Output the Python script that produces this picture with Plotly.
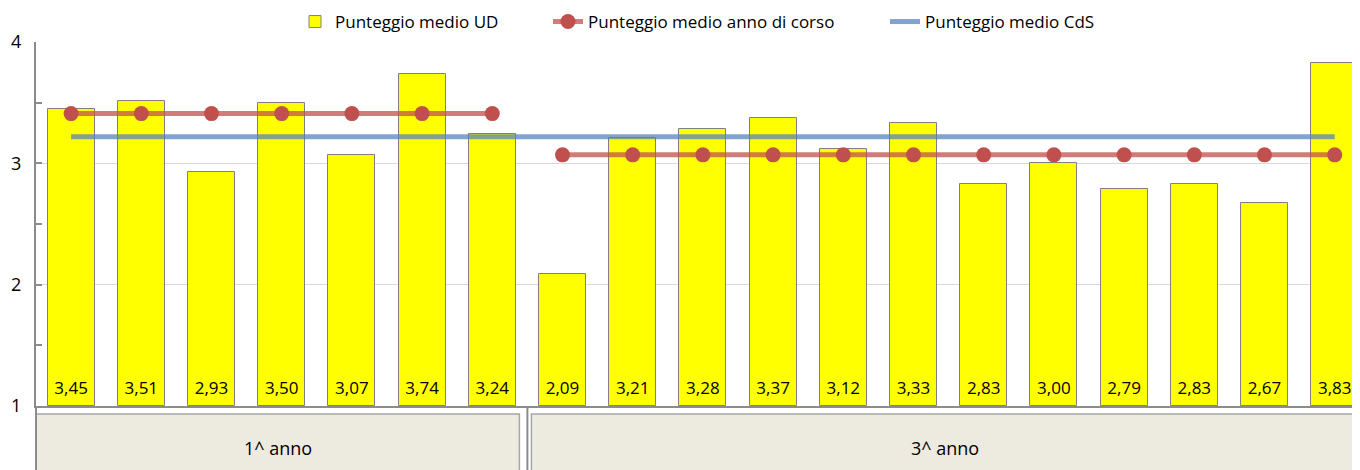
import plotly.graph_objects as go

# ---- data ----
ud_scores = [3.45, 3.51, 2.93, 3.50, 3.07, 3.74, 3.24,
             2.09, 3.21, 3.28, 3.37, 3.12, 3.33, 2.83, 3.00, 2.79, 2.83, 2.67, 3.83]
group_names = ["1^ anno", "3^ anno"]
group_sizes = [7, 12]
group_means = [3.41, 3.07]
cds_mean = 3.22

FONT = "Open Sans"
W, H = 1360, 470
OFF = 8  # page body offset of the figure in the browser window
ML = 36 - OFF
MT = 42 - OFF
MB = H - (406 - OFF)
MR = 0
PW = W - ML - MR
n = len(ud_scores)
x_idx = list(range(n))
cat_px = 70.2
x_range = [-0.5, -0.5 + PW / cat_px]
plot_h = H - MT - MB

def xp(x):
    return (x - x_range[0]) / (x_range[1] - x_range[0])

def yp_px(px_below):
    return -px_below / plot_h

labels = [f"{v:.2f}".replace(".", ",") for v in ud_scores]

fig = go.Figure()
fig.add_trace(go.Bar(
    x=x_idx, y=[v - 1 for v in ud_scores], base=1,
    width=0.67,
    marker=dict(color="#FFFF00", line=dict(color="rgb(128,128,128)", width=1)),
    name="Punteggio medio UD", hoverinfo="skip", legend="legend",
))

# group mean lines
start = 0
for gi, (size, m) in enumerate(zip(group_sizes, group_means)):
    xs = x_idx[start:start + size]
    fig.add_trace(go.Scatter(
        x=xs, y=[m] * len(xs), mode="lines+markers",
        line=dict(color="rgba(192,80,77,0.75)", width=5),
        marker=dict(color="#C0504D", size=15),
        name="Punteggio medio anno di corso",
        legendgroup="anno", showlegend=(gi == 0), legend="legend2",
    ))
    start += size

fig.add_trace(go.Scatter(
    x=[x_idx[0], x_idx[-1]], y=[cds_mean, cds_mean], mode="lines",
    line=dict(color="rgba(79,129,189,0.72)", width=5),
    name="Punteggio medio CdS", legend="legend3",
))

# bar value labels near the base
fig.add_trace(go.Scatter(
    x=x_idx, y=[1.13] * n, mode="text", text=labels,
    textfont=dict(family=FONT, size=17, color="black"),
    showlegend=False, hoverinfo="skip",
))

shapes = []
annotations = []
axis_grey = "#8C8C8C"
box_top = yp_px(8)
box_bot = yp_px(90)
start = 0
for gi, (name, size) in enumerate(zip(group_names, group_sizes)):
    left = start - 0.5
    right = start + size - 0.5
    x0 = xp(left) + (0 if gi == 0 else 4 / PW)
    x1 = (xp(right) - 8 / PW) if gi < len(group_sizes) - 1 else 1.0 - 2 / PW
    shapes.append(dict(type="rect", xref="paper", yref="paper",
                       x0=x0, x1=x1, y0=box_bot, y1=box_top,
                       fillcolor="#EDEAE0", line=dict(color="#A6A6A6", width=1.5),
                       layer="below"))
    vis_x1 = min(x1, 1.0 - 10 / PW)
    annotations.append(dict(xref="paper", yref="paper",
                            x=(x0 + vis_x1) / 2, y=yp_px(448 - 406),
                            xanchor="center", yanchor="middle",
                            text=name, showarrow=False,
                            font=dict(family=FONT, size=18, color="black")))
    if gi > 0:
        shapes.append(dict(type="line", xref="paper", yref="paper",
                           x0=xp(left), x1=xp(left), y0=0, y1=box_bot,
                           line=dict(color=axis_grey, width=2)))
    start += size
shapes.append(dict(type="line", xref="paper", yref="paper",
                   x0=0, x1=0, y0=0, y1=box_bot,
                   line=dict(color=axis_grey, width=2)))

leg_common = dict(orientation="h", xanchor="left", yanchor="middle",
                  y=1 + (MT - (22 - OFF)) / plot_h,
                  font=dict(family=FONT, size=17, color="black"),
                  bgcolor="rgba(0,0,0,0)")

fig.update_layout(
    width=W, height=H,
    margin=dict(l=ML, r=MR, t=MT, b=MB, autoexpand=False),
    plot_bgcolor="white", paper_bgcolor="white",
    font=dict(family=FONT, size=17, color="black"),
    bargap=0,
    showlegend=True,
    legend=dict(x=(287 - ML) / PW, **leg_common),
    legend2=dict(x=(540 - ML) / PW, **leg_common),
    legend3=dict(x=(877 - ML) / PW, **leg_common),
    shapes=shapes,
    annotations=annotations,
)
fig.update_xaxes(range=x_range, showticklabels=False, ticks="", showgrid=False,
                 zeroline=False, showline=True, linecolor=axis_grey, linewidth=2,
                 automargin=False)
fig.update_yaxes(range=[1, 4], tickvals=[1, 2, 3, 4], ticktext=["1", "2", "3", "4"],
                 showgrid=True, gridcolor="#D9D9D9", gridwidth=1,
                 zeroline=False, showline=True, linecolor=axis_grey, linewidth=2,
                 ticks="inside", ticklen=6, tickcolor=axis_grey, tickwidth=1.5,
                 minor=dict(tickvals=[1.5, 2.5, 3.5], ticks="inside", ticklen=6,
                            tickcolor=axis_grey, tickwidth=1.5, showgrid=False),
                 ticklabelstandoff=9, automargin=False,
                 tickfont=dict(family=FONT, size=18, color="black"))

fig.write_html("out.html")
